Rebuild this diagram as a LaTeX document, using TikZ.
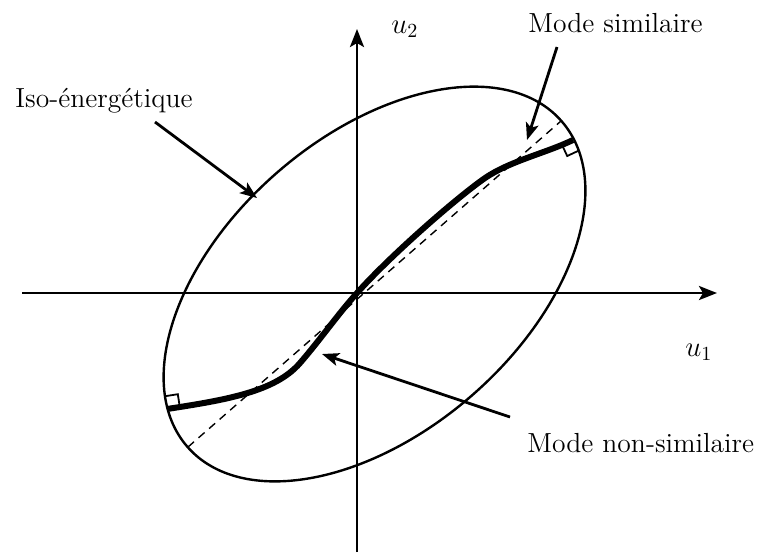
\documentclass[tikz,border=0pt]{standalone}
\usetikzlibrary{arrows.meta}
\begin{document}
\begin{tikzpicture}[x=0.5pt,y=-0.5pt,
  axisline/.style={line width=1.4pt,-{Stealth[length=9pt,width=7pt,inset=2pt]}},
  annot/.style={line width=1.4pt,-{Stealth[length=8.5pt,width=6.5pt,inset=2pt]}},
  lbl/.style={inner sep=0pt,font=\fontsize{13.8}{16}\selectfont},
  ellipseline/.style={line width=1.2pt},
  modeline/.style={line width=3pt},
  simline/.style={line width=0.7pt,dash pattern=on 4pt off 3pt},
  rightmark/.style={line width=0.9pt}]
\useasboundingbox (0,0) rectangle (764,554);
% axes
\coordinate (xl) at (22,293);
\coordinate (xr) at (717,293);
\coordinate (yb) at (357,552);
\coordinate (yt) at (357,29);
\draw[axisline] (xl) -- (xr);
\draw[axisline] (yb) -- (yt);
\node[lbl,anchor=base west] (lu1) at (685,356) {$u_1$};
\node[lbl,anchor=base west] (lu2) at (391,33) {$u_2$};
% iso-energy ellipse
\coordinate (c) at (374.5,284);
\draw[ellipseline,rotate around={41:(c)}] (c) ellipse [x radius=248, y radius=148];
% similar mode (dashed)
\coordinate (d1) at (188,447);
\coordinate (d2) at (561,121);
\draw[simline] (d1) -- (d2);
% non-similar mode
\coordinate (S) at (167,409);
\coordinate (M1) at (300,363);
\coordinate (O) at (357,293);
\coordinate (M2) at (485,178);
\coordinate (E) at (573,140);
\draw[modeline] (S) .. controls (225,400) and (275,392) .. (M1)
  .. controls (320,340) and (338,314) .. (O)
  .. controls (390,256) and (455,199) .. (M2)
  .. controls (510,161) and (546,153) .. (E);
% right-angle marks
\draw[rightmark] (165.0,396.2) -- (177.8,394.2) -- (179.8,407.0);
\draw[rightmark] (578.1,150.9) -- (567.2,156.0) -- (562.1,145.1);
% labels and arrows
\node[lbl,anchor=base west] (iso) at (15,107) {Iso-énergétique};
\node[lbl,anchor=base west] (sim) at (528,32) {Mode similaire};
\node[lbl,anchor=base west] (nonsim) at (527,452) {Mode non-similaire};
\coordinate (isoA) at (155,122);
\coordinate (isoB) at (257,198);
\coordinate (simA) at (557,47);
\coordinate (simB) at (527,140);
\coordinate (nsA) at (510,417);
\coordinate (nsB) at (322,354);
\draw[annot] (isoA) -- (isoB);
\draw[annot] (simA) -- (simB);
\draw[annot] (nsA) -- (nsB);
\end{tikzpicture}
\end{document}
